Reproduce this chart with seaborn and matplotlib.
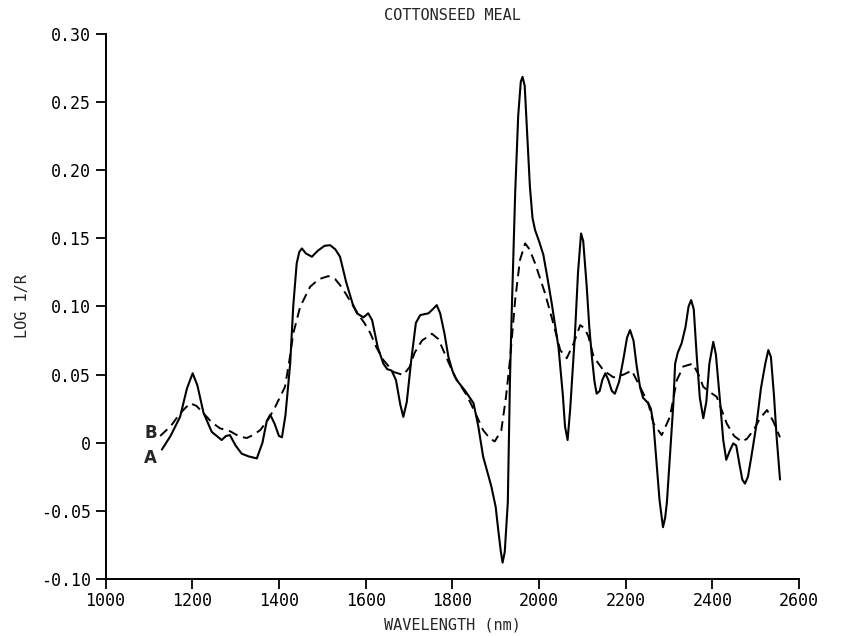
import numpy as np
import pandas as pd
import matplotlib
matplotlib.use("Agg")
import matplotlib.pyplot as plt
import seaborn as sns

# spectrum A (solid)
wl_a = [1130, 1150, 1172, 1188, 1201, 1212, 1226, 1245, 1268, 1278, 1287, 1300, 1314, 1330, 1349,
        1362, 1372, 1380, 1390, 1400, 1407, 1415, 1426, 1433, 1441, 1447, 1453, 1462, 1476, 1490,
        1505, 1518, 1530, 1541, 1555, 1570, 1580, 1595, 1606, 1615, 1628, 1641, 1650, 1660, 1670,
        1680, 1687, 1695, 1705, 1716, 1726, 1745, 1755, 1764, 1772, 1782, 1791, 1800, 1810, 1830,
        1849, 1860, 1871, 1890, 1900, 1906, 1912, 1916, 1921, 1928, 1933, 1937, 1945, 1952, 1958,
        1962, 1967, 1973, 1979, 1985, 1991, 2000, 2010, 2020, 2029, 2045, 2055, 2060, 2066, 2072,
        2083, 2090, 2097, 2102, 2110, 2116, 2122, 2128, 2133, 2140, 2146, 2153, 2160, 2168, 2175,
        2185, 2195, 2203, 2210, 2218, 2225, 2233, 2240, 2252, 2258, 2264, 2270, 2278, 2286, 2291,
        2295, 2302, 2310, 2314, 2320, 2329, 2338, 2345, 2351, 2357, 2364, 2371, 2379, 2386, 2393,
        2402, 2408, 2418, 2425, 2432, 2440, 2448, 2455, 2462, 2469, 2475, 2482, 2490, 2502, 2512,
        2522, 2529, 2535, 2542, 2548, 2556]
log_a = [-0.005, 0.005, 0.019, 0.040, 0.051, 0.042, 0.022, 0.008, 0.002, 0.005, 0.0056, -0.002, -0.008, -0.010, -0.0115,
         0.000, 0.016, 0.0205, 0.014, 0.005, 0.004, 0.020, 0.058, 0.100, 0.1316, 0.140, 0.1426, 0.139, 0.1365, 0.141,
         0.1445, 0.145, 0.142, 0.1365, 0.118, 0.102, 0.095, 0.092, 0.095, 0.090, 0.070, 0.058, 0.054, 0.053, 0.046,
         0.028, 0.019, 0.030, 0.060, 0.088, 0.0937, 0.095, 0.098, 0.101, 0.095, 0.080, 0.063, 0.053, 0.046, 0.038,
         0.029, 0.012, -0.010, -0.032, -0.047, -0.064, -0.080, -0.088, -0.080, -0.044, 0.046, 0.095, 0.183, 0.240, 0.265,
         0.2685, 0.262, 0.225, 0.188, 0.165, 0.156, 0.148, 0.138, 0.120, 0.103, 0.070, 0.035, 0.012, 0.002, 0.025,
         0.080, 0.125, 0.1536, 0.148, 0.115, 0.085, 0.063, 0.045, 0.036, 0.038, 0.046, 0.051, 0.046, 0.038, 0.036,
         0.045, 0.062, 0.077, 0.0827, 0.075, 0.057, 0.041, 0.033, 0.029, 0.025, 0.014, -0.010, -0.042, -0.062, -0.055,
         -0.044, -0.010, 0.029, 0.058, 0.066, 0.073, 0.085, 0.100, 0.1047, 0.098, 0.063, 0.033, 0.018, 0.030, 0.058,
         0.074, 0.065, 0.029, 0.002, -0.0125, -0.006, -0.0005, -0.002, -0.015, -0.027, -0.030, -0.025, -0.010, 0.014, 0.040,
         0.058, 0.068, 0.063, 0.035, 0.005, -0.027]

# spectrum B (dashed)
wl_b = [1126, 1150, 1172, 1195, 1210, 1226, 1245, 1264, 1287, 1310, 1326, 1340, 1357, 1375, 1391,
        1414, 1424, 1433, 1449, 1472, 1492, 1514, 1530, 1541, 1555, 1568, 1587, 1597, 1610, 1625,
        1641, 1664, 1687, 1702, 1713, 1730, 1753, 1768, 1779, 1790, 1806, 1833, 1850, 1871, 1887,
        1898, 1913, 1924, 1933, 1945, 1956, 1968, 1978, 1991, 2014, 2033, 2049, 2064, 2080, 2095,
        2105, 2114, 2126, 2149, 2172, 2195, 2214, 2233, 2252, 2264, 2283, 2302, 2318, 2333, 2355,
        2368, 2379, 2395, 2410, 2433, 2450, 2468, 2480, 2495, 2510, 2526, 2540, 2556]
log_b = [0.005, 0.012, 0.0216, 0.029, 0.027, 0.0216, 0.015, 0.0106, 0.0085, 0.0044, 0.0035, 0.0056, 0.0093, 0.017, 0.026,
         0.041, 0.060, 0.080, 0.0998, 0.1145, 0.120, 0.1223, 0.120, 0.1157, 0.109, 0.102, 0.0924, 0.088, 0.081, 0.070,
         0.0607, 0.052, 0.0497, 0.0558, 0.066, 0.075, 0.080, 0.076, 0.068, 0.060, 0.0484, 0.035, 0.024, 0.0093, 0.003,
         0.001, 0.009, 0.034, 0.0607, 0.1047, 0.134, 0.1463, 0.142, 0.1316, 0.1096, 0.0876, 0.068, 0.062, 0.073, 0.0863,
         0.084, 0.078, 0.063, 0.053, 0.048, 0.050, 0.053, 0.041, 0.029, 0.0142, 0.0056, 0.019, 0.046, 0.056, 0.058,
         0.050, 0.041, 0.037, 0.0337, 0.0142, 0.005, 0.0007, 0.003, 0.0093, 0.018, 0.024, 0.016, 0.004]

x_ticks = [1000, 1200, 1400, 1600, 1800, 2000, 2200, 2400, 2600]
y_ticks = [-0.10, -0.05, 0, 0.05, 0.10, 0.15, 0.20, 0.25, 0.30]
y_tick_labels = ['-0.10', '-0.05', '0', '0.05', '0.10', '0.15', '0.20', '0.25', '0.30']

df_a = pd.DataFrame({'wl': wl_a, 'val': log_a})
df_b = pd.DataFrame({'wl': wl_b, 'val': log_b})

sns.set_style("ticks")
plt.rcParams['font.family'] = ['DejaVu Sans Mono', 'DejaVu Sans']

fig = plt.figure(figsize=(8.51, 6.36), dpi=100)
ax = fig.add_axes([0.124, 0.0896, 0.815, 0.857])

sns.lineplot(data=df_a, x='wl', y='val', ax=ax, color='black', lw=1.5, sort=False)
sns.lineplot(data=df_b, x='wl', y='val', ax=ax, color='black', lw=1.4, sort=False,
             dashes=False, linestyle=(0, (5, 3)))

# curve labels
ax.text(1118, 0.007, 'B', ha='right', va='center', fontsize=12, fontweight='bold',
        family='DejaVu Sans')
ax.text(1118, -0.011, 'A', ha='right', va='center', fontsize=12, fontweight='bold',
        family='DejaVu Sans')

ax.set_xlim(1000, 2600)
ax.set_ylim(-0.10, 0.30)
ax.set_xticks(x_ticks)
ax.set_yticks(y_ticks)
ax.set_yticklabels(y_tick_labels)
ax.tick_params(direction='out', length=7, width=1.3, labelsize=12, colors='black')
ax.tick_params(axis='x', pad=2)

sns.despine(ax=ax)
for s in ['left', 'bottom']:
    ax.spines[s].set_linewidth(1.4)
    ax.spines[s].set_color('black')

ax.set_title('COTTONSEED MEAL', fontsize=11, pad=10)
ax.set_xlabel('WAVELENGTH (nm)', fontsize=11, labelpad=6)
ax.set_ylabel('LOG 1/R', fontsize=11, labelpad=8)

fig.savefig('out.png', dpi=100)
